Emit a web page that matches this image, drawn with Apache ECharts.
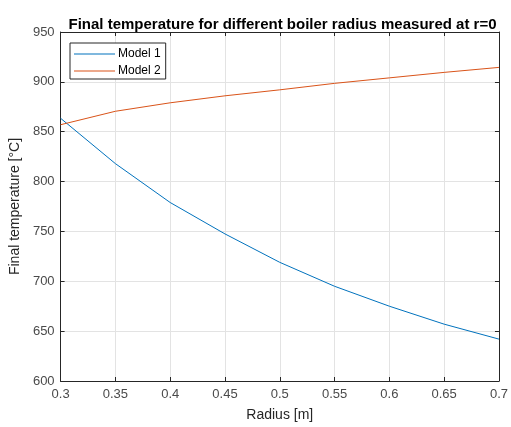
<!DOCTYPE html>
<html><head><meta charset="utf-8">
<script src="https://cdn.jsdelivr.net/npm/echarts@6/dist/echarts.min.js"></script>
<style>html,body{margin:0;padding:0;background:#fff}#c{width:511px;height:427px}</style>
</head><body><div id="c"></div>
<script>
const radius = [0.3, 0.35, 0.4, 0.45, 0.5, 0.55, 0.6, 0.65, 0.7];
const model1 = [863.5, 818, 779, 747.5, 719, 695, 675, 657, 642];
const model2 = [857, 870.5, 879, 886, 892, 898.5, 904, 909.5, 914.5];
const seriesNames = ['Model 1', 'Model 2'];
const titleText = 'Final temperature for different boiler radius measured at r=0';
const xName = 'Radius [m]';
const yName = 'Final temperature [°C]';

const font = 'Liberation Sans, Arial, sans-serif';
const axisCol = '#262626';
const labelCol = '#4a4a4a';
const gridCol = '#e3e3e3';
const chart = echarts.init(document.getElementById('c'));
const pairs = a => radius.map((r, i) => [r, a[i]]);
const fmtX = v => String(parseFloat(v.toFixed(2)));
chart.setOption({
  animation: false,
  backgroundColor: '#fff',
  title: {text: titleText, left: 277.5, textAlign: 'center', top: 12,
    textStyle: {fontFamily: font, fontSize: 15, fontWeight: 'bold', color: '#000'}},
  grid: {left: 59, right: 9, top: 32, bottom: 45},
  legend: {orient: 'vertical', left: 70, top: 43,
    data: seriesNames.map(n => ({name: n, icon: 'rect'})),
    itemWidth: 41, itemHeight: 1, itemGap: 5, padding: [5, 5, 2, 4],
    borderColor: '#262626', borderWidth: 1, backgroundColor: '#fff',
    textStyle: {fontFamily: font, fontSize: 12, color: '#000', padding: [0,0,0,-2]}},
  xAxis: [{type: 'value', min: 0.3, max: 0.7, interval: 0.05,
    name: xName, nameLocation: 'middle', nameGap: 27,
    nameTextStyle: {fontFamily: font, fontSize: 14, color: axisCol},
    axisLine: {show: true, lineStyle: {color: axisCol}},
    axisTick: {show: true, inside: true, length: 4, lineStyle: {color: axisCol}},
    axisLabel: {fontFamily: font, fontSize: 13, color: labelCol, formatter: fmtX, margin: 7},
    splitLine: {show: true, lineStyle: {color: gridCol}}},
   {type: 'value', position: 'top', min: 0.3, max: 0.7, interval: 0.05,
    axisLine: {show: true, lineStyle: {color: axisCol}},
    axisTick: {show: true, inside: true, length: 4, lineStyle: {color: axisCol}},
    axisLabel: {show: false}, splitLine: {show: false}}],
  yAxis: [{type: 'value', min: 600, max: 950, interval: 50,
    name: yName, nameLocation: 'middle', nameGap: 34,
    nameTextStyle: {fontFamily: font, fontSize: 14, color: axisCol},
    axisLine: {show: true, lineStyle: {color: axisCol}},
    axisTick: {show: true, inside: true, length: 4, lineStyle: {color: axisCol}},
    axisLabel: {fontFamily: font, fontSize: 13, color: labelCol, margin: 6},
    splitLine: {show: true, lineStyle: {color: gridCol}}},
   {type: 'value', position: 'right', min: 600, max: 950, interval: 50,
    axisLine: {show: true, lineStyle: {color: axisCol}},
    axisTick: {show: true, inside: true, length: 4, lineStyle: {color: axisCol}},
    axisLabel: {show: false}, splitLine: {show: false}}],
  series: [
    {name: seriesNames[0], type: 'line', data: pairs(model1), symbol: 'none',
     color: '#0072BD', lineStyle: {width: 1, color: '#0072BD'}},
    {name: seriesNames[1], type: 'line', data: pairs(model2), symbol: 'none',
     color: '#D95319', lineStyle: {width: 1, color: '#D95319'}}
  ]
});
</script></body></html>
